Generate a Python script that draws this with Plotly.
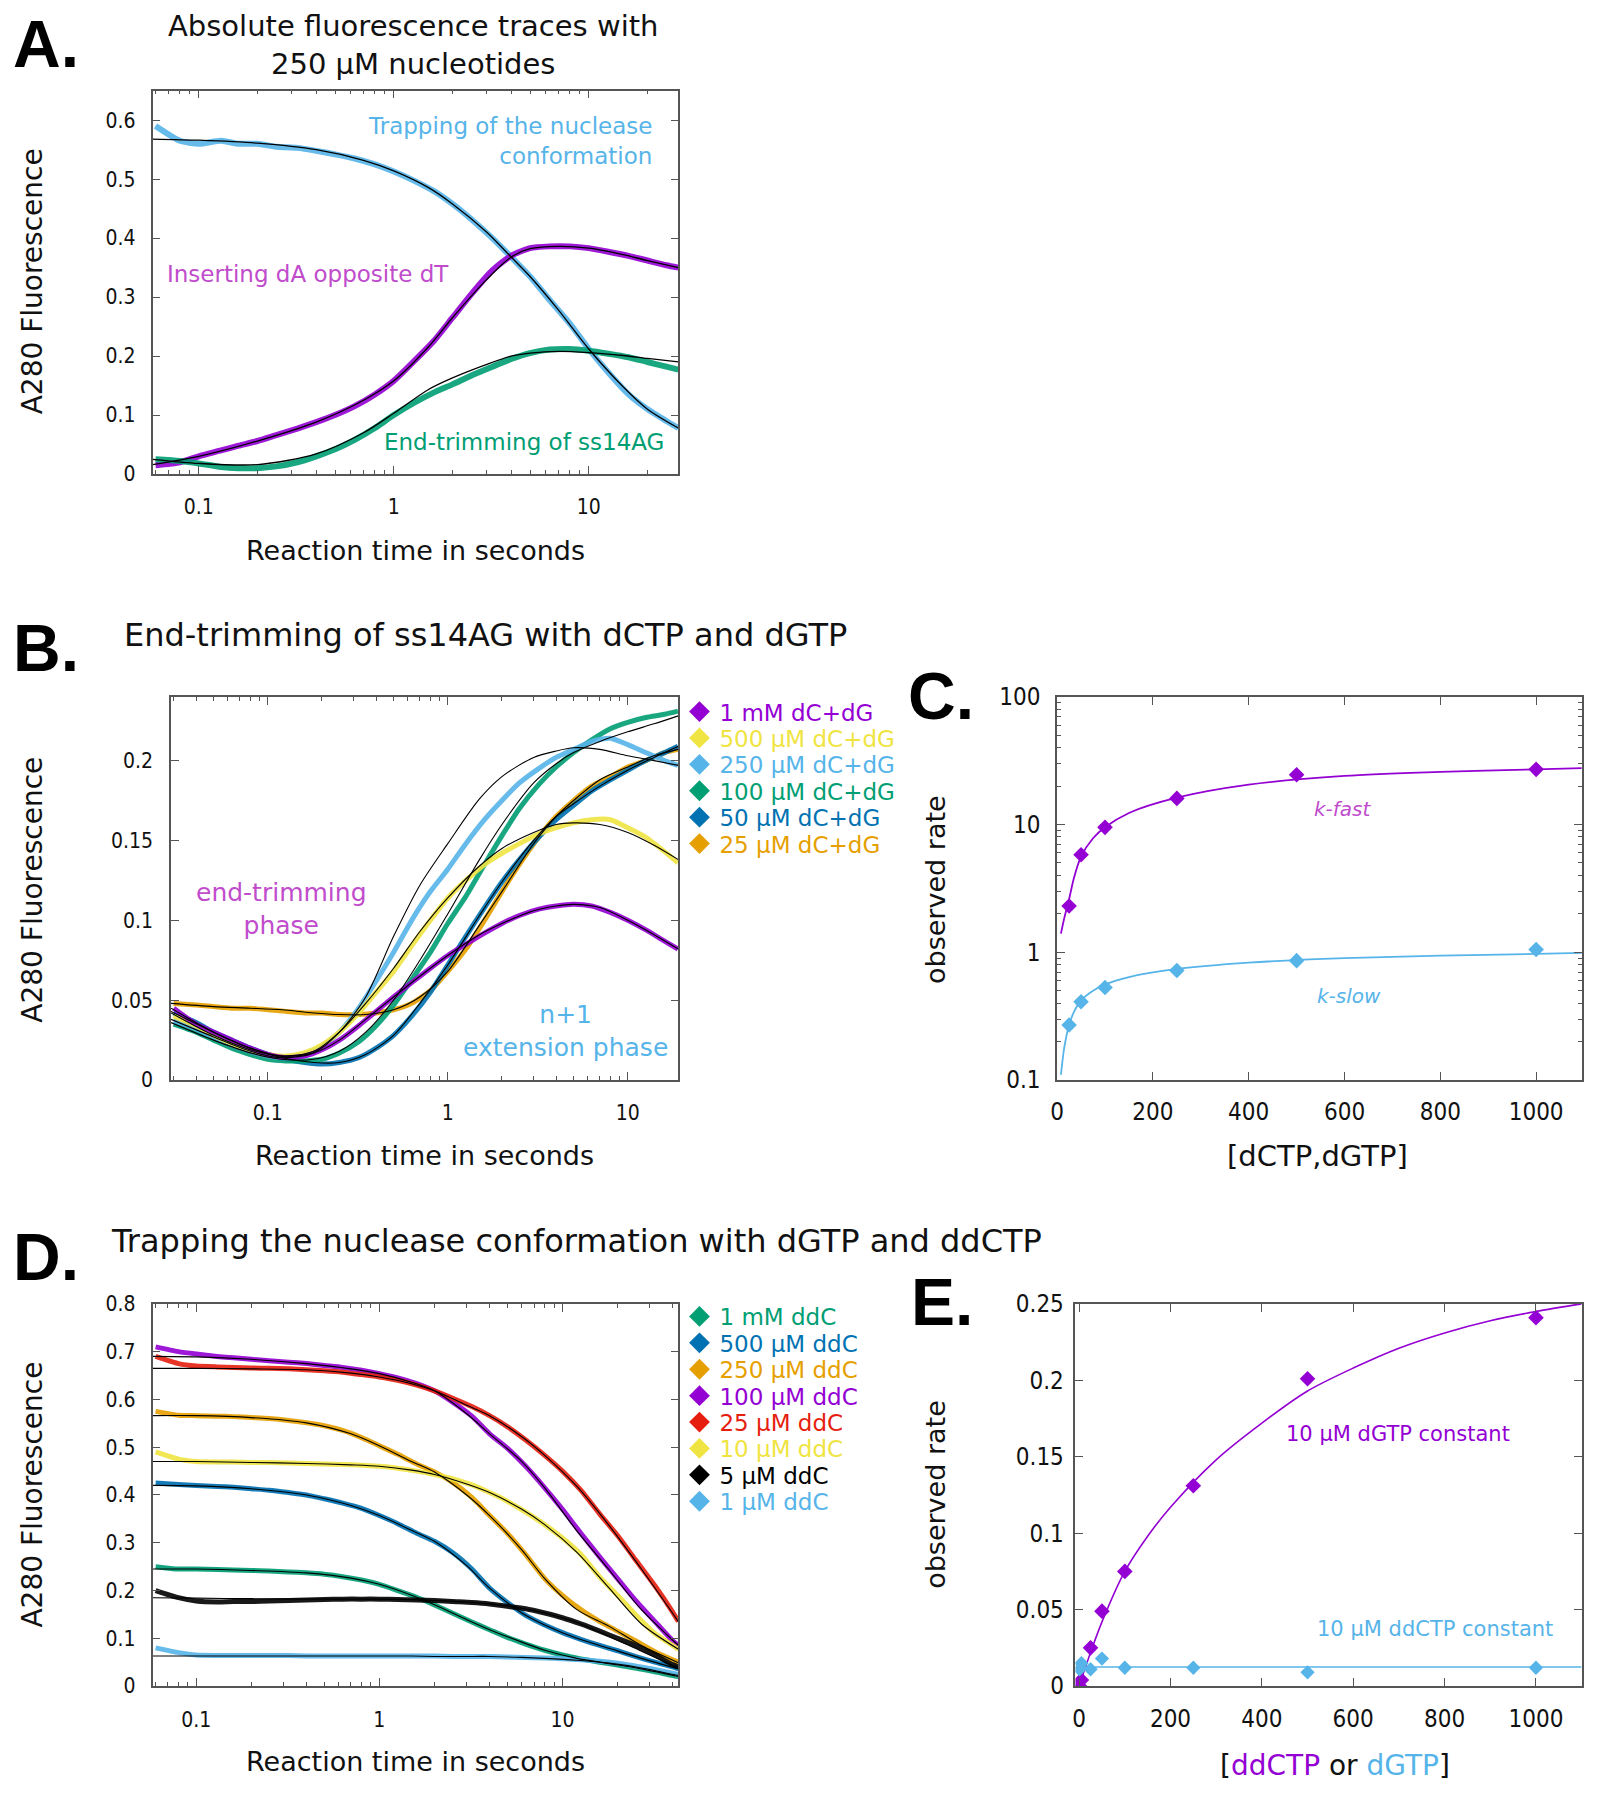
import plotly.graph_objects as go

# ---------------- colours ----------------
PURPLE = "#9400d3"
LBLUE = "#56b4e9"
GREEN = "#009e73"
YELLOW = "#f0e442"
DBLUE = "#0072b2"
ORANGE = "#e69f00"
RED = "#e51e10"
BLACK = "#000000"
PINK = "#c04ccc"

# ---------------- Panel A data ----------------
tA = [0.06, 0.08, 0.1, 0.13, 0.16, 0.2, 0.25, 0.32, 0.4, 0.5, 0.63, 0.8, 1.0, 1.26, 1.6,
      2.0, 2.5, 3.2, 4.0, 5.0, 6.3, 8.0, 10, 12.6, 16, 20, 25, 28.8]
A_trap = [0.59, 0.565, 0.56, 0.565, 0.56, 0.56, 0.555, 0.553, 0.548, 0.542, 0.535, 0.525, 0.513, 0.498, 0.48,
          0.458, 0.432, 0.40, 0.368, 0.335, 0.295, 0.255, 0.212, 0.172, 0.135, 0.11, 0.09, 0.078]
A_insert = [0.015, 0.02, 0.03, 0.04, 0.048, 0.056, 0.066, 0.077, 0.088, 0.1, 0.115, 0.135, 0.158, 0.19, 0.225,
            0.265, 0.305, 0.345, 0.37, 0.383, 0.386, 0.386, 0.383, 0.377, 0.37, 0.362, 0.354, 0.35]
A_trim = [0.025, 0.022, 0.018, 0.012, 0.01, 0.01, 0.013, 0.02, 0.03, 0.042, 0.058, 0.078, 0.1, 0.12, 0.138,
          0.152, 0.167, 0.182, 0.195, 0.205, 0.211, 0.212, 0.209, 0.204, 0.198, 0.19, 0.182, 0.177]
tA_fit = [0.058, 0.1, 0.2, 0.4, 0.7, 1, 1.5, 2, 3, 4, 5, 7, 10, 15, 20, 28.8]
A_trap_fit = [0.568, 0.566, 0.561, 0.55, 0.532, 0.514, 0.486, 0.458, 0.41, 0.368, 0.335, 0.278, 0.212, 0.148, 0.11, 0.078]
A_insert_fit = [0.016, 0.03, 0.056, 0.088, 0.125, 0.158, 0.215, 0.265, 0.33, 0.368, 0.382, 0.386, 0.383, 0.372, 0.362, 0.35]
A_trim_fit = [0.025, 0.018, 0.016, 0.034, 0.07, 0.103, 0.143, 0.163, 0.186, 0.2, 0.205, 0.208, 0.206, 0.201, 0.196, 0.19]

# ---------------- Panel B data ----------------
tB = [0.03, 0.04, 0.05, 0.063, 0.08, 0.1, 0.126, 0.16, 0.2, 0.25, 0.32, 0.4, 0.5, 0.63, 0.8, 1.0, 1.26,
      1.6, 2.0, 2.5, 3.2, 4.0, 5.0, 6.3, 8.0, 10, 12.6, 16, 19]
B_labels = ["1 mM dC+dG", "500 µM dC+dG", "250 µM dC+dG", "100 µM dC+dG", "50 µM dC+dG", "25 µM dC+dG"]
B_1mM = [0.045, 0.035, 0.03, 0.025, 0.02, 0.016, 0.014, 0.015, 0.019, 0.025, 0.034, 0.043, 0.052, 0.061, 0.07,
         0.078, 0.085, 0.092, 0.098, 0.103, 0.107, 0.109, 0.11, 0.109, 0.105, 0.1, 0.094, 0.087, 0.082]
B_500 = [0.04, 0.034, 0.028, 0.023, 0.019, 0.016, 0.015, 0.017, 0.022, 0.03, 0.042, 0.055, 0.068, 0.084, 0.1,
         0.114, 0.125, 0.135, 0.142, 0.148, 0.154, 0.158, 0.161, 0.163, 0.163, 0.158, 0.152, 0.143, 0.136]
B_250 = [0.037, 0.032, 0.027, 0.022, 0.018, 0.015, 0.014, 0.016, 0.021, 0.03, 0.045, 0.062, 0.08, 0.1, 0.118,
         0.132, 0.148, 0.163, 0.175, 0.186, 0.195, 0.202, 0.207, 0.212, 0.214, 0.21, 0.205, 0.2, 0.197]
B_100 = [0.035, 0.03, 0.025, 0.02, 0.016, 0.013, 0.012, 0.012, 0.013, 0.017, 0.024, 0.034, 0.047, 0.063, 0.08,
         0.098, 0.115, 0.135, 0.153, 0.17, 0.185, 0.196, 0.205, 0.213, 0.22, 0.224, 0.227, 0.229, 0.231]
B_50 = [0.042, 0.036, 0.03, 0.025, 0.02, 0.016, 0.013, 0.011, 0.01, 0.011, 0.014, 0.02, 0.028, 0.04, 0.055,
        0.072, 0.09, 0.108, 0.124, 0.138, 0.152, 0.163, 0.172, 0.181, 0.188, 0.194, 0.2, 0.205, 0.209]
B_25 = [0.048, 0.047, 0.046, 0.045, 0.045, 0.044, 0.043, 0.042, 0.042, 0.041, 0.041, 0.042, 0.044, 0.048, 0.056,
        0.068, 0.082, 0.1, 0.118, 0.135, 0.152, 0.165, 0.175, 0.184, 0.19, 0.196, 0.2, 0.205, 0.207]
tB_fit = [0.029, 0.05, 0.08, 0.12, 0.18, 0.25, 0.35, 0.5, 0.7, 1, 1.5, 2, 3, 4, 5, 7, 10, 14, 19.1]
B_1mM_fit = [0.045, 0.03, 0.02, 0.015, 0.017, 0.025, 0.038, 0.052, 0.065, 0.078, 0.091, 0.098, 0.106, 0.109, 0.11, 0.108, 0.1, 0.091, 0.082]
B_500_fit = [0.042, 0.028, 0.019, 0.015, 0.018, 0.03, 0.048, 0.07, 0.093, 0.114, 0.134, 0.145, 0.155, 0.16, 0.161, 0.16, 0.155, 0.147, 0.138]
B_250_fit = [0.038, 0.027, 0.018, 0.014, 0.017, 0.03, 0.052, 0.09, 0.122, 0.148, 0.176, 0.19, 0.202, 0.206, 0.208, 0.207, 0.203, 0.2, 0.197]
B_100_fit = [0.036, 0.025, 0.017, 0.013, 0.013, 0.018, 0.03, 0.05, 0.075, 0.104, 0.138, 0.16, 0.186, 0.198, 0.205, 0.212, 0.218, 0.223, 0.228]
B_50_fit = [0.043, 0.03, 0.02, 0.014, 0.011, 0.011, 0.016, 0.028, 0.048, 0.072, 0.103, 0.124, 0.15, 0.165, 0.173, 0.184, 0.194, 0.202, 0.209]
B_25_fit = [0.048, 0.046, 0.045, 0.044, 0.042, 0.041, 0.041, 0.044, 0.052, 0.068, 0.097, 0.118, 0.148, 0.165, 0.175, 0.188, 0.196, 0.203, 0.207]

# ---------------- Panel C data ----------------
conc_C = [25, 50, 100, 250, 500, 1000]
k_fast = [2.3, 5.8, 9.5, 16, 24.5, 27]
k_slow = [0.27, 0.41, 0.53, 0.72, 0.86, 1.05]
conc_C_fit = [8, 15, 25, 35, 50, 75, 100, 150, 250, 400, 600, 800, 1000, 1096]
k_fast_fit = [1.4, 1.85, 2.6, 3.8, 5.6, 7.8, 9.5, 12.3, 16.2, 20.5, 24, 25.8, 27, 27.6]
k_slow_fit = [0.11, 0.18, 0.27, 0.34, 0.42, 0.5, 0.56, 0.64, 0.74, 0.83, 0.9, 0.94, 0.97, 0.99]

# ---------------- Panel D data ----------------
tD = [0.06, 0.08, 0.1, 0.13, 0.16, 0.2, 0.25, 0.32, 0.4, 0.5, 0.63, 0.8, 1.0, 1.26, 1.6, 2.0, 2.5,
      3.2, 4.0, 5.0, 6.3, 8.0, 10, 12.6, 16, 20, 25, 32, 40, 43]
D_labels = ["1 mM ddC", "500 µM ddC", "250 µM ddC", "100 µM ddC", "25 µM ddC", "10 µM ddC", "5 µM ddC", "1 µM ddC"]
D_1mM = [0.25, 0.245, 0.245, 0.244, 0.243, 0.242, 0.241, 0.239, 0.237, 0.234, 0.229, 0.222, 0.213, 0.2, 0.186,
         0.17, 0.153, 0.134, 0.118, 0.102, 0.088, 0.075, 0.065, 0.057, 0.05, 0.044, 0.038, 0.03, 0.022, 0.02]
D_500 = [0.425, 0.422, 0.42, 0.418, 0.416, 0.413, 0.41, 0.405, 0.4, 0.392, 0.383, 0.372, 0.357, 0.34, 0.32,
         0.303, 0.28, 0.245, 0.205, 0.175, 0.148, 0.128, 0.112, 0.098, 0.085, 0.074, 0.062, 0.05, 0.04, 0.036]
D_250 = [0.575, 0.567, 0.566, 0.565, 0.564, 0.562, 0.56, 0.556, 0.551, 0.545, 0.535, 0.52, 0.503, 0.485, 0.465,
         0.448, 0.427, 0.395, 0.357, 0.32, 0.275, 0.225, 0.19, 0.16, 0.135, 0.115, 0.095, 0.072, 0.055, 0.05]
D_100 = [0.71, 0.7, 0.695, 0.69, 0.687, 0.684, 0.681, 0.678, 0.675, 0.671, 0.667, 0.661, 0.654, 0.645, 0.633,
         0.618, 0.595, 0.565, 0.528, 0.498, 0.46, 0.415, 0.37, 0.32, 0.27, 0.225, 0.18, 0.135, 0.095, 0.085]
D_25 = [0.69, 0.675, 0.67, 0.668, 0.667, 0.666, 0.665, 0.664, 0.662, 0.66, 0.657, 0.652, 0.647, 0.64, 0.63,
        0.618, 0.603, 0.585, 0.566, 0.543, 0.515, 0.483, 0.45, 0.41, 0.36, 0.315, 0.265, 0.21, 0.155, 0.135]
D_10 = [0.49, 0.475, 0.47, 0.469, 0.469, 0.468, 0.468, 0.467, 0.466, 0.465, 0.464, 0.462, 0.46, 0.456, 0.45,
        0.443, 0.434, 0.421, 0.405, 0.387, 0.364, 0.338, 0.31, 0.276, 0.228, 0.19, 0.15, 0.11, 0.085, 0.077]
D_5 = [0.2, 0.185, 0.178, 0.176, 0.177, 0.177, 0.178, 0.179, 0.18, 0.181, 0.182, 0.182, 0.182, 0.181, 0.18,
       0.179, 0.177, 0.175, 0.172, 0.167, 0.162, 0.153, 0.143, 0.13, 0.115, 0.1, 0.085, 0.065, 0.045, 0.04]
D_1 = [0.08, 0.07, 0.065, 0.064, 0.064, 0.064, 0.064, 0.064, 0.063, 0.063, 0.063, 0.063, 0.063, 0.063, 0.063,
       0.063, 0.062, 0.062, 0.062, 0.061, 0.06, 0.059, 0.057, 0.055, 0.052, 0.048, 0.042, 0.035, 0.027, 0.024]
tD_fit = [0.058, 0.1, 0.2, 0.4, 0.7, 1, 1.5, 2, 3, 4, 6, 8, 12, 18, 27, 43]
D_1mM_fit = [0.245, 0.245, 0.242, 0.237, 0.226, 0.213, 0.19, 0.17, 0.139, 0.118, 0.092, 0.075, 0.058, 0.047, 0.036, 0.02]
D_500_fit = [0.42, 0.419, 0.413, 0.4, 0.378, 0.357, 0.326, 0.303, 0.252, 0.205, 0.153, 0.128, 0.1, 0.079, 0.058, 0.036]
D_250_fit = [0.566, 0.566, 0.562, 0.551, 0.528, 0.503, 0.47, 0.448, 0.4, 0.357, 0.285, 0.225, 0.16, 0.125, 0.085, 0.049]
D_100_fit = [0.69, 0.689, 0.684, 0.675, 0.664, 0.654, 0.636, 0.618, 0.57, 0.528, 0.47, 0.415, 0.325, 0.243, 0.16, 0.085]
D_25_fit = [0.665, 0.665, 0.664, 0.662, 0.655, 0.647, 0.633, 0.618, 0.588, 0.566, 0.522, 0.483, 0.418, 0.336, 0.245, 0.135]
D_10_fit = [0.47, 0.47, 0.468, 0.466, 0.463, 0.46, 0.452, 0.443, 0.423, 0.405, 0.37, 0.338, 0.28, 0.205, 0.13, 0.077]
D_5_fit = [0.185, 0.184, 0.183, 0.182, 0.182, 0.182, 0.181, 0.179, 0.176, 0.172, 0.163, 0.153, 0.133, 0.104, 0.073, 0.038]
D_1_fit = [0.063, 0.063, 0.063, 0.063, 0.063, 0.063, 0.063, 0.062, 0.062, 0.062, 0.06, 0.058, 0.054, 0.048, 0.038, 0.022]

# ---------------- Panel E data ----------------
conc_E = [1, 5, 25, 50, 100, 250, 500, 1000]
rate_dGTPconst = [0.0, 0.004, 0.025, 0.049, 0.075, 0.131, 0.201, 0.241]
rate_ddCTPconst = [0.011, 0.015, 0.011, 0.018, 0.012, 0.012, 0.009, 0.012]
conc_E_fit = [0, 10, 25, 50, 100, 150, 200, 300, 400, 500, 600, 700, 800, 900, 1000, 1100]
rate_dGTP_fit = [0.0, 0.009, 0.022, 0.042, 0.075, 0.098, 0.117, 0.148, 0.172, 0.193, 0.208, 0.221, 0.231, 0.239, 0.245, 0.25]
conc_E_flat = [0, 1100]
rate_ddCTP_fit = [0.0125, 0.0125]

# ---------------- build figure ----------------
fig = go.Figure()
FONT = "DejaVu Sans"
TICKFONT = "DejaVu Sans Condensed, DejaVu Sans"

FW, FH = 1600.0, 1800.0
S = 1600.0 / 1394.0   # reference-preview -> full pixel scale
OFF = 8.0             # page body margin compensation


def px(xs):
    return (xs * S - OFF) / FW


def py(ys):
    return 1 - (ys * S - OFF) / FH


def data_line(x, y, color, xa, ya, width=6):
    fig.add_trace(go.Scatter(x=x, y=y, mode="lines", line=dict(color=color, width=width, shape="spline", smoothing=0.6),
                             opacity=0.9, xaxis=xa, yaxis=ya, showlegend=False, hoverinfo="skip"))


def fit_line(x, y, xa, ya, color=BLACK, width=1.3):
    fig.add_trace(go.Scatter(x=x, y=y, mode="lines", line=dict(color=color, width=width, shape="spline", smoothing=0.8),
                             xaxis=xa, yaxis=ya, showlegend=False, hoverinfo="skip"))


legend_layout = {}
legend_count = [0]


def legend_entry(label, color, ycenter, xa, ya):
    legend_count[0] += 1
    n = legend_count[0]
    lid = "legend" if n == 1 else f"legend{n}"
    fig.add_trace(go.Scatter(x=[None], y=[None], mode="markers",
                             marker=dict(symbol="diamond", size=16, color=color),
                             name=f'<span style="color:{color}">{label}</span>',
                             legend=lid, showlegend=True, xaxis=xa, yaxis=ya))
    legend_layout[lid] = dict(x=px(592), y=py(ycenter), xanchor="left", yanchor="middle",
                              bgcolor="rgba(0,0,0,0)", borderwidth=0,
                              font=dict(family=FONT, size=23), itemwidth=30)


# Panel A
for y, c in [(A_trap, LBLUE), (A_insert, PURPLE), (A_trim, GREEN)]:
    data_line(tA, y, c, "x", "y")
for y in [A_trap_fit, A_insert_fit, A_trim_fit]:
    fit_line(tA_fit, y, "x", "y")

# Panel B
B_series = [B_1mM, B_500, B_250, B_100, B_50, B_25]
B_fits = [B_1mM_fit, B_500_fit, B_250_fit, B_100_fit, B_50_fit, B_25_fit]
B_colors = [PURPLE, YELLOW, LBLUE, GREEN, DBLUE, ORANGE]
for y, c in reversed(list(zip(B_series, B_colors))):
    data_line(tB, y, c, "x2", "y2", width=5)
for y in B_fits:
    fit_line(tB_fit, y, "x2", "y2", width=1.1)
for i, (lab, c) in enumerate(zip(B_labels, B_colors)):
    legend_entry(lab, c, 620 + 23 * i, "x2", "y2")

# Panel C
fit_line(conc_C_fit, k_fast_fit, "x3", "y3", color=PURPLE, width=1.8)
fit_line(conc_C_fit, k_slow_fit, "x3", "y3", color=LBLUE, width=1.8)
fig.add_trace(go.Scatter(x=conc_C, y=k_fast, mode="markers", marker=dict(symbol="diamond", size=12, color=PURPLE),
                         xaxis="x3", yaxis="y3", showlegend=False))
fig.add_trace(go.Scatter(x=conc_C, y=k_slow, mode="markers", marker=dict(symbol="diamond", size=12, color=LBLUE),
                         xaxis="x3", yaxis="y3", showlegend=False))

# Panel D
D_series = [D_1mM, D_500, D_250, D_100, D_25, D_10, D_5, D_1]
D_fits = [D_1mM_fit, D_500_fit, D_250_fit, D_100_fit, D_25_fit, D_10_fit, D_5_fit, D_1_fit]
D_colors = [GREEN, DBLUE, ORANGE, PURPLE, RED, YELLOW, BLACK, LBLUE]
for y, c in zip(D_series, D_colors):
    data_line(tD, y, c, "x4", "y4", width=5)
for y in D_fits:
    fit_line(tD_fit, y, "x4", "y4", width=1.1)
for i, (lab, c) in enumerate(zip(D_labels, D_colors)):
    legend_entry(lab, c, 1147 + 23 * i, "x4", "y4")

# Panel E
fit_line(conc_E_fit, rate_dGTP_fit, "x5", "y5", color=PURPLE, width=1.6)
fit_line(conc_E_flat, rate_ddCTP_fit, "x5", "y5", color=LBLUE, width=1.6)
fig.add_trace(go.Scatter(x=conc_E, y=rate_dGTPconst, mode="markers", marker=dict(symbol="diamond", size=12, color=PURPLE),
                         xaxis="x5", yaxis="y5", showlegend=False))
fig.add_trace(go.Scatter(x=conc_E, y=rate_ddCTPconst, mode="markers", marker=dict(symbol="diamond", size=11, color=LBLUE),
                         xaxis="x5", yaxis="y5", showlegend=False))

# ---------------- axes ----------------
AX = "#555555"


def axis(domain, anchor, rng, typ="linear", dtick=None, tsize=21, minor=False, standoff=10):
    d = dict(domain=domain, anchor=anchor, range=rng, type=typ, showline=True, linecolor=AX, linewidth=1.6,
             mirror="ticks", ticks="inside", ticklen=8, tickwidth=1.2, tickcolor=AX, showgrid=False,
             zeroline=False, automargin=False, ticklabelstandoff=standoff,
             tickfont=dict(family=TICKFONT, size=tsize, color="#111111"))
    if dtick is not None:
        d["dtick"] = dtick
    if minor:
        d["minor"] = dict(ticks="inside", ticklen=4, tickcolor=AX, tickwidth=1, showgrid=False)
    return d


fig.update_layout(
    xaxis=axis([px(133), px(591)], "y", [-1.2366, 1.4594], "log", 1, minor=True, standoff=13),
    yaxis=axis([py(413), py(79)], "x", [0, 0.65], dtick=0.1, standoff=11),
    xaxis2=axis([px(149), px(591)], "y2", [-1.5376, 1.281], "log", 1, minor=True, standoff=13),
    yaxis2=axis([py(941), py(607)], "x2", [0, 0.24], dtick=0.05, standoff=12),
    xaxis3=axis([px(921), px(1378)], "y3", [0, 1095], dtick=200, tsize=24, standoff=9),
    yaxis3=axis([py(941), py(607)], "x3", [-1, 2], "log", 1, tsize=24, minor=True, standoff=10),
    xaxis4=axis([px(133), px(591)], "y4", [-1.238, 1.633], "log", 1, minor=True, standoff=14),
    yaxis4=axis([py(1469), py(1136)], "x4", [0, 0.8], dtick=0.1, standoff=11),
    xaxis5=axis([px(937), px(1378)], "y5", [-8, 1100], dtick=200, tsize=24, standoff=10),
    yaxis5=axis([py(1469), py(1136)], "x5", [0, 0.25], dtick=0.05, tsize=24, standoff=5),
)

fig.update_layout(
    width=1600, height=1800, autosize=False,
    margin=dict(l=0, r=0, t=0, b=0, pad=0, autoexpand=False),
    paper_bgcolor="white", plot_bgcolor="white",
    font=dict(family=FONT, color="#111111"),
    **legend_layout,
)

ann = []


def text(x, y, s, size=24, color="#111111", xanchor="center", yanchor="middle", angle=0, align="center",
         family=FONT):
    ann.append(dict(x=x, y=y, xref="paper", yref="paper", text=s, showarrow=False, xanchor=xanchor,
                    yanchor=yanchor, textangle=angle, align=align,
                    font=dict(family=family, size=size, color=color)))


LETTER = "Liberation Sans, Arial"
# Panel letters
text(px(10), py(38), "<b>A.</b>", 66, "#000", xanchor="left", family=LETTER)
text(px(10), py(565), "<b>B.</b>", 66, "#000", xanchor="left", family=LETTER)
text(px(789), py(606), "<b>C.</b>", 66, "#000", xanchor="left", family=LETTER)
text(px(10), py(1095), "<b>D.</b>", 66, "#000", xanchor="left", family=LETTER)
text(px(792), py(1134), "<b>E.</b>", 66, "#000", xanchor="left", family=LETTER)

# Titles
text(px(360), py(39), "Absolute fluorescence traces with<br>250 µM nucleotides", 29)
text(px(106), py(553), "End-trimming of ss14AG with dCTP and dGTP", 32, xanchor="left")
text(px(95), py(1081), "Trapping the nuclease conformation with dGTP and ddCTP", 32, xanchor="left")

# Axis titles
for yc in (245, 775, 1302):
    text(px(28), py(yc), "A280 Fluorescence", 28, angle=-90)
text(px(362), py(480), "Reaction time in seconds", 27)
text(px(370), py(1007), "Reaction time in seconds", 27)
text(px(362), py(1535), "Reaction time in seconds", 27)
text(px(815), py(775), "observed rate", 27, angle=-90)
text(px(815), py(1302), "observed rate", 27, angle=-90)
text(px(1148), py(1007), "[dCTP,dGTP]", 29)
text(px(1163), py(1538), f'[<span style="color:{PURPLE}">ddCTP</span> or <span style="color:{LBLUE}">dGTP</span>]', 28)

# In-plot labels
text(px(570), py(123), "Trapping of the nuclease<br>conformation", 23, LBLUE, xanchor="right", align="right")
text(px(144), py(239), "Inserting dA opposite dT", 23, PINK, xanchor="left")
text(px(580), py(385), "End-trimming of ss14AG", 23, GREEN, xanchor="right")
text(px(245), py(792), "end-trimming<br>phase", 25, PINK)
text(px(493), py(898), "n+1<br>extension phase", 25, LBLUE)
text(px(1170), py(705), "<i>k-fast</i>", 20, PINK)
text(px(1175), py(868), "<i>k-slow</i>", 20, LBLUE)
text(px(1218), py(1249), "10 µM dGTP constant", 21, PURPLE)
text(px(1250), py(1419), "10 µM ddCTP constant", 21, LBLUE)

fig.update_layout(annotations=ann)

fig.write_html("out.html")
